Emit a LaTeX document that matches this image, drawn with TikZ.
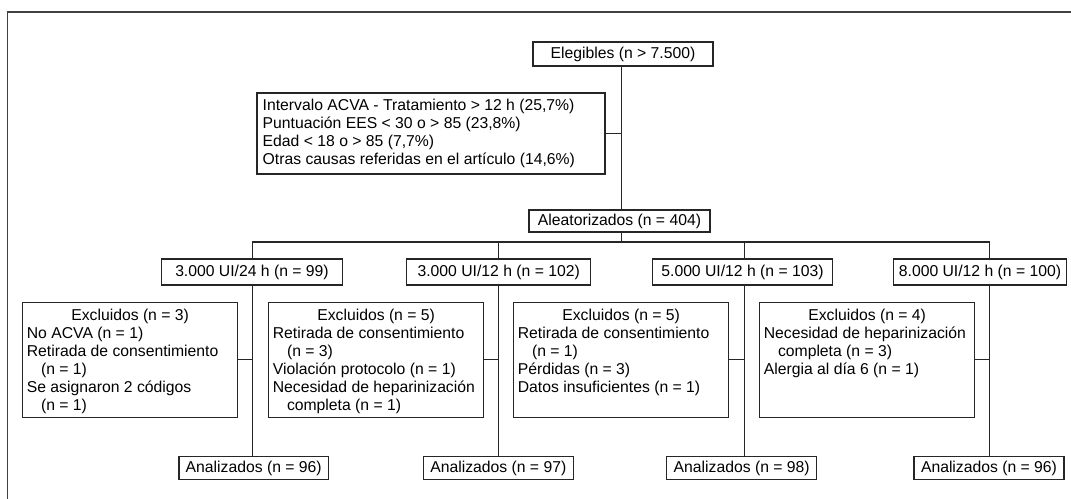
\documentclass[tikz,border=0pt]{standalone}
\usepackage{fontspec}
\setmainfont{Liberation Sans}
\newcommand\exctext[1]{\parbox[c][86.25pt][t]{154.9pt}{\raggedright #1}}
\newcommand\exchead[1]{\makebox[\linewidth]{\rule{0pt}{14pt}#1}}
\newcommand\hang{\hspace*{0.9em}}
\begin{document}
\begin{tikzpicture}[x=0.75pt,y=-0.75pt,
  every node/.style={font=\fontsize{11.8pt}{13.5pt}\selectfont, text=black},
  line/.style={draw=black!85, line width=0.85pt},
  sbox/.style={line, inner sep=0pt, minimum height={#1*0.75pt}},
  exbox/.style={line, inner xsep=3pt, inner ysep=0pt, anchor=north west}
]
\useasboundingbox (0,0) rectangle (1071,499);
% frame (top and left edges)
\draw[draw=black!75, line width=1.1pt] (1071,12) -- (7.3,12) -- (7.3,499);

% top part
\node[sbox=24, minimum width={180*0.75pt}] (eleg) at (623,54) {Elegibles (n > 7.500)};
\node[line, inner xsep=4.3pt, inner ysep=0pt, minimum height={81*0.75pt}] (crit) at (431,133.5)
  {\parbox{252.4pt}{\raggedright
   Intervalo ACVA - Tratamiento > 12 h (25,7\%)\\
   Puntuación EES < 30 o > 85 (23,8\%)\\
   Edad < 18 o > 85 (7,7\%)\\
   Otras causas referidas en el artículo (14,6\%)}};
\node[sbox=22, minimum width={181*0.75pt}] (alea) at (619.5,221) {Aleatorizados (n = 404)};

\coordinate (m) at (621.5,242);
\coordinate (v1) at (252.3,242);
\coordinate (v2) at (498.3,242);
\coordinate (v3) at (744.3,242);
\coordinate (v4) at (989.5,242);

% group boxes
\node[sbox=26, minimum width={180.6*0.75pt}] (g1) at (252,272) {3.000 UI/24 h (n = 99)};
\node[sbox=26, minimum width={184*0.75pt}]   (g2) at (498.7,272) {3.000 UI/12 h (n = 102)};
\node[sbox=26, minimum width={179.6*0.75pt}] (g3) at (742.5,272) {5.000 UI/12 h (n = 103)};
\node[sbox=26, minimum width={173.4*0.75pt}] (g4) at (980,272) {8.000 UI/12 h (n = 100)};

% excluded boxes
\node[exbox] (e1) at (22.3,301.7) {\exctext{\exchead{Excluidos (n = 3)}\\
  No ACVA (n = 1)\\ Retirada de consentimiento\\ \hang(n = 1)\\ Se asignaron 2 códigos\\ \hang(n = 1)}};
\node[exbox] (e2) at (268.3,301.7) {\exctext{\exchead{Excluidos (n = 5)}\\
  Retirada de consentimiento\\ \hang(n = 3)\\ Violación protocolo (n = 1)\\ Necesidad de heparinización\\ \hang completa (n = 1)}};
\node[exbox] (e3) at (513.3,301.7) {\exctext{\exchead{Excluidos (n = 5)}\\
  Retirada de consentimiento\\ \hang(n = 1)\\ Pérdidas (n = 3)\\ Datos insuficientes (n = 1)}};
\node[exbox] (e4) at (759.3,301.7) {\exctext{\exchead{Excluidos (n = 4)}\\
  Necesidad de heparinización\\ \hang completa (n = 3)\\ Alergia al día 6 (n = 1)}};

% analysed boxes
\node[sbox=22.6, minimum width={149.3*0.75pt}] (a1) at (253.7,468) {Analizados (n = 96)};
\node[sbox=22.6, minimum width={150*0.75pt}]   (a2) at (498.3,468) {Analizados (n = 97)};
\node[sbox=22.6, minimum width={150*0.75pt}]   (a3) at (741.7,468) {Analizados (n = 98)};
\node[sbox=22.6, minimum width={150*0.75pt}]   (a4) at (989,468) {Analizados (n = 96)};

% connectors
\draw[line] (eleg.south -| m) -- (alea.north -| m);
\draw[line] (crit.east) -- (crit.east -| m);
\draw[line] (alea.south -| m) -- (m);
\draw[line] (v1) -- (v4);
\foreach \i in {1,2,3,4}{
  \draw[line] (v\i) -- (g\i.north -| v\i);
  \draw[line] (g\i.south -| v\i) -- (a\i.north -| v\i);
  \draw[line] (e\i.east) -- (e\i.east -| v\i);
}
\end{tikzpicture}
\end{document}
